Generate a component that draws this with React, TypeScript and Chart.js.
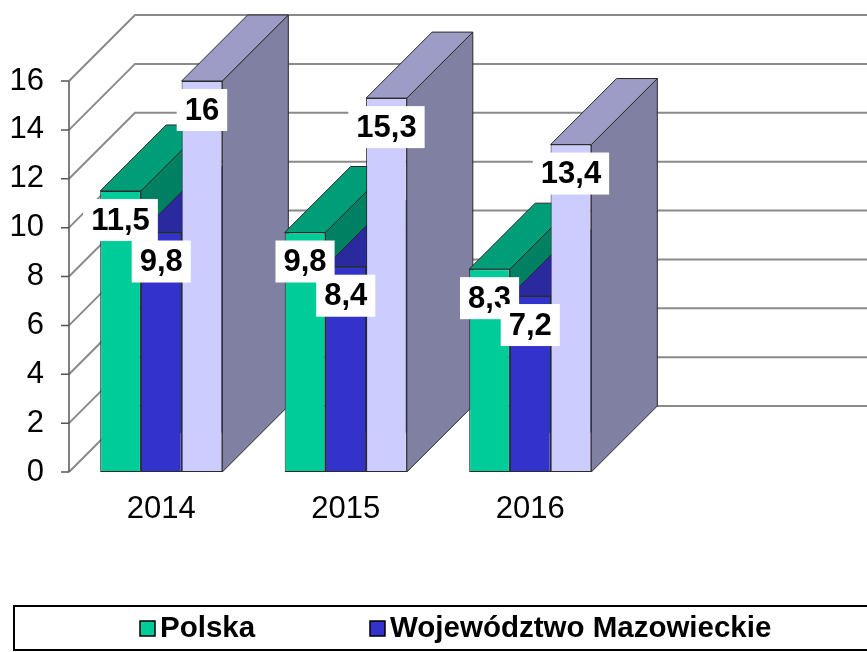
import { useEffect, useRef } from "react";
import { Chart, registerables } from "chart.js";

Chart.register(...registerables);

// ---- data ----
const categories = ["2014", "2015", "2016"];
const polska = [11.5, 9.8, 8.3];
const mazowieckie = [9.8, 8.4, 7.2];
const seria3 = [16, 15.3, 13.4];
const seriesNames = ["Polska", "Województwo Mazowieckie", "Seria 3"];
const legendSeries = [0, 1];
const yMin = 0;
const yMax = 16;
const yStep = 2;

// ---- styles ----
const FRONT = ["#00CC99", "#3333CC", "#CCCCFF"];
const TOP = ["#009E78", "#2A2A9E", "#9C9CC6"];
const SIDE = ["#008062", "#222280", "#8080A2"];
const EDGE = "#2a2a2a";
const GRID = "#8a8a8a";
const DEPTH = 66;
const FONT = "'Liberation Sans', Arial, sans-serif";

const fmt = (v: number) => String(v).replace(".", ",");

const threeD = {
  id: "threeD",
  beforeDatasetsDraw(chart: any) {
    const { ctx, chartArea: a } = chart;
    const y = chart.scales.y;
    ctx.save();
    // back wall grid + left wall diagonals
    ctx.strokeStyle = GRID;
    ctx.lineWidth = 2;
    for (let v = yMin; v <= yMax; v += yStep) {
      const yf = y.getPixelForValue(v);
      ctx.beginPath();
      ctx.moveTo(a.left, yf);
      ctx.lineTo(a.left + DEPTH, yf - DEPTH);
      ctx.lineTo(chart.width + 5, yf - DEPTH);
      ctx.stroke();
    }
    // front axis line and ticks
    ctx.strokeStyle = "#555";
    ctx.lineWidth = 1.5;
    ctx.beginPath();
    ctx.moveTo(a.left, y.getPixelForValue(yMax));
    ctx.lineTo(a.left, y.getPixelForValue(yMin));
    for (let v = yMin; v <= yMax; v += yStep) {
      const yf = y.getPixelForValue(v);
      ctx.moveTo(a.left - 8, yf);
      ctx.lineTo(a.left, yf);
    }
    ctx.stroke();

    // side and top faces, per category then per series
    const n = chart.data.labels.length;
    const ds = chart.data.datasets.length;
    ctx.lineWidth = 1;
    ctx.strokeStyle = EDGE;
    ctx.lineJoin = "round";
    for (let j = 0; j < n; j++) {
      for (let i = 0; i < ds; i++) {
        const el = chart.getDatasetMeta(i).data[j];
        if (!el) continue;
        const l = el.x - el.width / 2;
        const r = el.x + el.width / 2;
        const t = el.y;
        const b = el.base;
        // side
        ctx.fillStyle = SIDE[i];
        ctx.beginPath();
        ctx.moveTo(r, t);
        ctx.lineTo(r + DEPTH, t - DEPTH);
        ctx.lineTo(r + DEPTH, b - DEPTH);
        ctx.lineTo(r, b);
        ctx.closePath();
        ctx.fill();
        ctx.stroke();
        // top
        ctx.fillStyle = TOP[i];
        ctx.beginPath();
        ctx.moveTo(l, t);
        ctx.lineTo(r, t);
        ctx.lineTo(r + DEPTH, t - DEPTH);
        ctx.lineTo(l + DEPTH, t - DEPTH);
        ctx.closePath();
        ctx.fill();
        ctx.stroke();
      }
    }
    ctx.restore();
  },
  afterDatasetsDraw(chart: any) {
    const { ctx } = chart;
    ctx.save();
    ctx.font = `bold 31px ${FONT}`;
    ctx.textAlign = "center";
    ctx.textBaseline = "middle";
    chart.data.datasets.forEach((d: any, i: number) => {
      chart.getDatasetMeta(i).data.forEach((el: any, j: number) => {
        const txt = fmt(d.data[j]);
        const w = ctx.measureText(txt).width + 16;
        const h = 42;
        const cx = el.x;
        const cy = el.y + 29;
        ctx.fillStyle = "#ffffff";
        ctx.fillRect(cx - w / 2, cy - h / 2, w, h);
        ctx.fillStyle = "#000000";
        ctx.fillText(txt, cx, cy + 1);
      });
    });
    ctx.restore();
  },
  afterDraw(chart: any) {
    const { ctx } = chart;
    ctx.save();
    // legend frame
    ctx.strokeStyle = "#000";
    ctx.lineWidth = 2;
    ctx.strokeRect(14, 606, chart.width + 40, 44);
    ctx.font = `bold 29.5px ${FONT}`;
    ctx.textBaseline = "middle";
    ctx.textAlign = "left";
    const xs = [140, 370];
    legendSeries.forEach((i, k) => {
      const x = xs[k];
      ctx.fillStyle = FRONT[i];
      ctx.fillRect(x, 621, 15, 15);
      ctx.lineWidth = 1.5;
      ctx.strokeStyle = "#000";
      ctx.strokeRect(x, 621, 15, 15);
      ctx.fillStyle = "#000";
      ctx.fillText(seriesNames[i], x + 20, 629);
    });
    ctx.restore();
  },
};

export default function App() {
  const ref = useRef<HTMLCanvasElement>(null);
  useEffect(() => {
    if (!ref.current) return;
    const chart = new Chart(ref.current, {
      type: "bar",
      data: {
        labels: categories,
        datasets: [polska, mazowieckie, seria3].map((d, i) => ({
          label: seriesNames[i],
          data: d,
          backgroundColor: FRONT[i],
          borderColor: EDGE,
          borderWidth: 1,
          borderSkipped: false,
          categoryPercentage: 0.662,
          barPercentage: 1,
        })),
      },
      options: {
        animation: false,
        responsive: false,
        layout: { padding: { top: 81, right: 244.5, bottom: 120, left: 0 } },
        plugins: { legend: { display: false }, tooltip: { enabled: false } },
        scales: {
          x: {
            grid: { display: false, drawTicks: false },
            border: { display: false },
            ticks: { color: "#000", font: { family: FONT, size: 31 }, padding: 19 },
            afterFit: (s: any) => {
              s.height = 60;
            },
          },
          y: {
            min: yMin,
            max: yMax,
            grid: { display: false, drawTicks: false },
            border: { display: false },
            ticks: { stepSize: yStep, color: "#000", font: { family: FONT, size: 31 }, padding: 25 },
            afterFit: (s: any) => {
              s.width = 69;
            },
          },
        },
      },
      plugins: [threeD],
    } as any);
    return () => chart.destroy();
  }, []);
  return (
    <div style={{ position: "fixed", left: 0, top: 0, width: 867, height: 652, background: "#fff" }}>
      <canvas ref={ref} width={867} height={652} />
    </div>
  );
}
